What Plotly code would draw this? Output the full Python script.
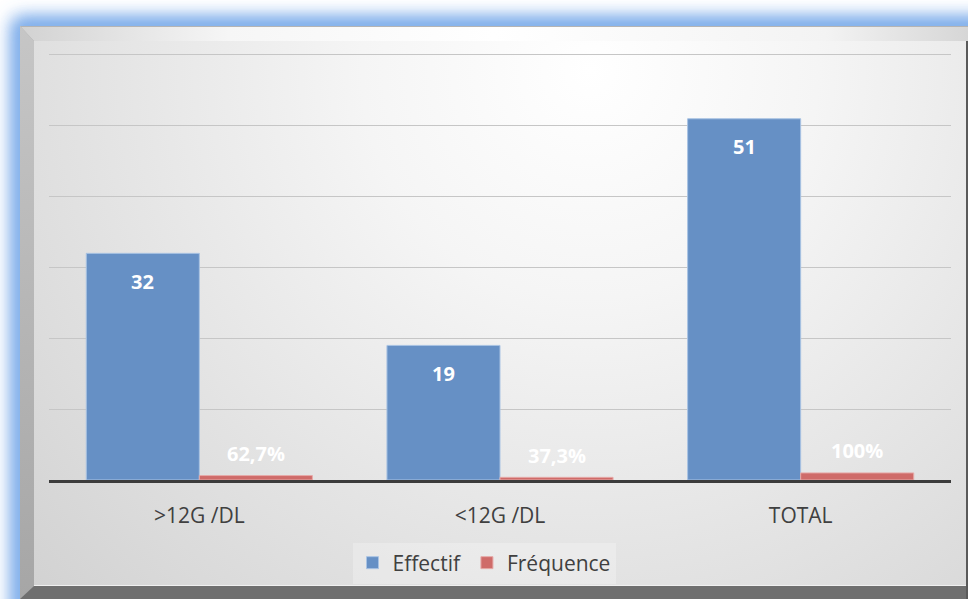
import base64
import plotly.graph_objects as go

# Data
categories = [">12G /DL", "<12G /DL", "TOTAL"]
effectif = [32, 19, 51]
frequence = [0.627, 0.373, 1.0]

W, H = 968, 599
FONT = "Open Sans"
BLUE = "#6690c5"
RED = "#cf6b69"
Y_MAX = 60.4


def pct(v):
    p = round(v * 100, 1)
    s = f"{p:.0f}" if p == int(p) else f"{p:.1f}".replace(".", ",")
    return s + "%"


# Decorative frame: blue glow, bevelled border and shaded panel
svg = f"""<svg xmlns="http://www.w3.org/2000/svg" width="{W}" height="{H}" viewBox="0 0 {W} {H}">
<defs>
<filter id="glow" x="-20%" y="-20%" width="140%" height="140%"><feGaussianBlur stdDeviation="9"/></filter>
<radialGradient id="panel" gradientUnits="userSpaceOnUse" cx="590" cy="70" r="760">
<stop offset="0" stop-color="#ffffff"/><stop offset="0.3" stop-color="#f5f5f5"/><stop offset="1" stop-color="#d2d2d2"/>
</radialGradient>
<linearGradient id="top" x1="0" y1="0" x2="1" y2="0">
<stop offset="0" stop-color="#d2d2d2"/><stop offset="0.22" stop-color="#f6f6f6"/><stop offset="0.5" stop-color="#ffffff"/>
<stop offset="0.85" stop-color="#f3f3f3"/><stop offset="1" stop-color="#d6d6d6"/>
</linearGradient>
<linearGradient id="left" x1="0" y1="0" x2="0" y2="1">
<stop offset="0" stop-color="#c6c6c6"/><stop offset="1" stop-color="#a6a6a6"/>
</linearGradient>
</defs>
<rect width="{W}" height="{H}" fill="#ffffff"/>
<rect x="12" y="17" width="990" height="620" rx="8" fill="#5f9ae6" filter="url(#glow)"/>
<rect x="18" y="24" width="980" height="610" rx="3" fill="#9cc0ee" filter="url(#glow)" opacity="0.8"/>
<rect x="20" y="26" width="948" height="573" fill="#a8a8a8"/>
<rect x="34" y="41" width="932" height="545" fill="url(#panel)"/>
<polygon points="20,26 968,26 968,41 34,41" fill="url(#top)"/>
<line x1="20" y1="26.5" x2="968" y2="26.5" stroke="#b4b4b4" stroke-width="1"/>
<polygon points="20,26 34,41 34,586 20,599" fill="url(#left)"/>
<polygon points="20,599 34,586 966,586 968,599" fill="#6f6f6f"/>
<rect x="966" y="41" width="2" height="558" fill="#5a5a5a"/>
<line x1="34" y1="585.5" x2="966" y2="585.5" stroke="#f0f0f0" stroke-width="1"/>
</svg>"""
bg_uri = "data:image/svg+xml;base64," + base64.b64encode(svg.encode()).decode()

fig = go.Figure()
fig.add_trace(go.Bar(
    x=categories, y=effectif, name="Effectif",
    marker=dict(color=BLUE, line=dict(color="#a9c3e3", width=1)),
    hoverinfo="skip",
))
fig.add_trace(go.Bar(
    x=categories, y=frequence, name="Fréquence",
    marker=dict(color=RED, line=dict(color="#e6a9a7", width=1)),
    hoverinfo="skip",
))

# Value labels
annotations = []
for c, v in zip(categories, effectif):
    annotations.append(dict(
        x=c, y=v, xref="x", yref="y", xshift=-56.5, yshift=-28,
        text=f"<b>{v}</b>", showarrow=False, yanchor="middle",
        font=dict(family=FONT, size=20, color="white"),
    ))
for c, v in zip(categories, frequence):
    annotations.append(dict(
        x=c, y=v, xref="x", yref="y", xshift=56.5, yshift=22,
        text=f"<b>{pct(v)}</b>", showarrow=False, yanchor="middle",
        font=dict(family=FONT, size=20, color="white"),
    ))

px_per_unit = (480 - 55) / 60
top_px = 480 - Y_MAX * px_per_unit

fig.update_layout(
    width=W, height=H,
    margin=dict(l=0, r=0, t=0, b=0),
    paper_bgcolor="white",
    plot_bgcolor="rgba(0,0,0,0)",
    barmode="group",
    bargap=0.248,
    bargroupgap=0,
    font=dict(family=FONT, color="#404040"),
    images=[dict(
        source=bg_uri, xref="paper", yref="paper", x=0, y=1,
        sizex=1, sizey=1, xanchor="left", yanchor="top",
        sizing="stretch", layer="below",
    )],
    xaxis=dict(
        domain=[49 / W, 951 / W],
        showline=True, linecolor="#3c3c3c", linewidth=3,
        ticks="outside", ticklen=15, tickcolor="rgba(0,0,0,0)",
        tickfont=dict(family=FONT, size=21, color="#404040"),
        showgrid=False, fixedrange=True,
    ),
    yaxis=dict(
        domain=[(H - 480) / H, (H - top_px) / H],
        range=[0, Y_MAX], dtick=10,
        showgrid=True, gridcolor="#c6c6c6", gridwidth=1.3,
        showticklabels=False, zeroline=False, showline=False,
        fixedrange=True,
    ),
    legend=dict(
        orientation="h", x=0.5, xanchor="center",
        y=(H - 563) / H, yanchor="middle",
        bgcolor="rgba(255,255,255,0.25)",
        font=dict(family=FONT, size=21, color="#404040"),
        itemwidth=30, traceorder="normal",
    ),
    showlegend=True,
    annotations=annotations,
)

fig.write_html("out.html")
